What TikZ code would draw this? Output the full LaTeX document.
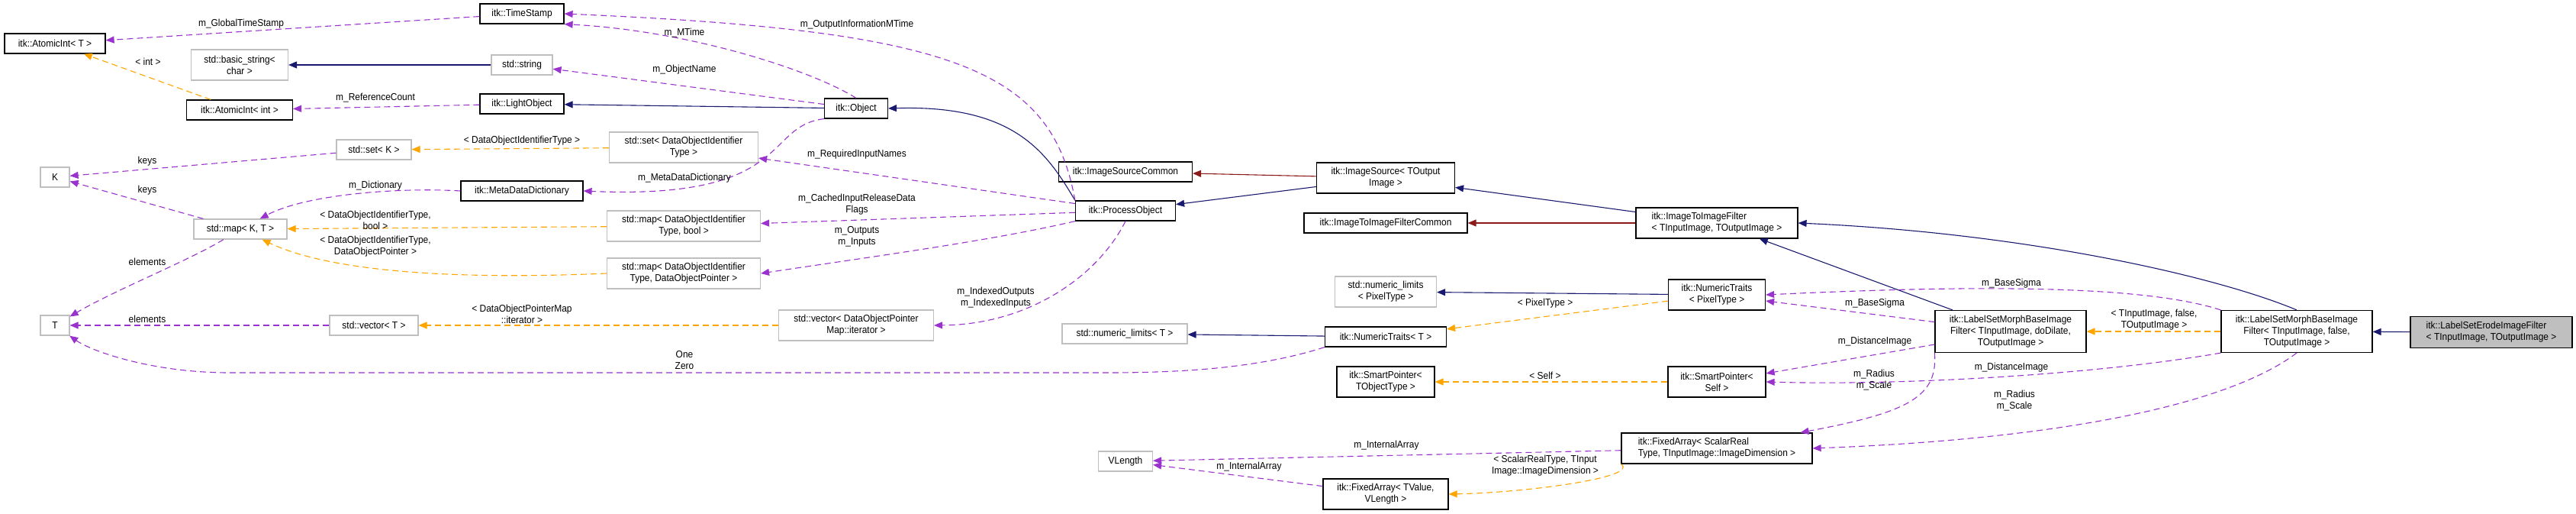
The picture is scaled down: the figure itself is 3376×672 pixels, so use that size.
\documentclass[tikz,border=0pt]{standalone}
\usepackage{fontspec}
\setmainfont{Liberation Sans}[FakeStretch=0.92]
\usetikzlibrary{arrows.meta}
\definecolor{usecol}{HTML}{9A32CD}
\definecolor{tplcol}{HTML}{FFA500}
\definecolor{inhcol}{HTML}{191970}
\definecolor{privcol}{HTML}{8B1A1A}
\definecolor{graybd}{HTML}{BFBFBF}
\tikzset{
  x=1pt, y=-1pt,
  every node/.style={font=\fontsize{13}{15}\selectfont, inner sep=1pt},
  cls/.style={draw=black, line width=1.2pt, fill=white, align=center},
  ext/.style={draw=graybd, line width=1.2pt, fill=white, align=center},
  lbl/.style={align=center},
  tip/.style={-{Triangle[length=11pt,width=9pt]}},
  usee/.style={tip, draw=usecol, line width=1.1pt, dash pattern=on 8pt off 5pt},
  tpl/.style={tip, draw=tplcol, line width=1.1pt, dash pattern=on 8pt off 5pt},
  inh/.style={tip, draw=inhcol, line width=1.1pt},
  priv/.style={tip, draw=privcol, line width=1.1pt},
}
\begin{document}
\begin{tikzpicture}
\useasboundingbox (0,0) rectangle (3376,672);
% nodes
\node[cls, minimum width=132, minimum height=26] (at) at (72,57) {itk::AtomicInt\textless{} T \textgreater};
\node[cls, minimum width=110, minimum height=26] (ts) at (684,18) {itk::TimeStamp};
\node[ext, minimum width=127, minimum height=40] (bs) at (314,85) {std::basic\_string\textless\\char \textgreater};
\node[ext, minimum width=80, minimum height=26] (ss) at (684,85) {std::string};
\node[cls, minimum width=139, minimum height=26] (ai) at (314,144) {itk::AtomicInt\textless{} int \textgreater};
\node[cls, minimum width=110, minimum height=26] (lo) at (684,136) {itk::LightObject};
\node[ext, minimum width=98, minimum height=26] (sk) at (490,196) {std::set\textless{} K \textgreater};
\node[ext, minimum width=38, minimum height=26] (k) at (72,232) {K};
\node[cls, minimum width=160, minimum height=26] (mdd) at (684,250) {itk::MetaDataDictionary};
\node[ext, minimum width=122, minimum height=26] (mkt) at (315,300) {std::map\textless{} K, T \textgreater};
\node[ext, minimum width=38, minimum height=26] (t) at (72,426) {T};
\node[ext, minimum width=116, minimum height=26] (vt) at (490,426) {std::vector\textless{} T \textgreater};
\node[cls, minimum width=83, minimum height=26] (obj) at (1122,142) {itk::Object};
\node[ext, minimum width=195, minimum height=40] (sd) at (896,193) {std::set\textless{} DataObjectIdentifier\\Type \textgreater};
\node[ext, minimum width=201, minimum height=40] (mdb) at (896,296) {std::map\textless{} DataObjectIdentifier\\Type, bool \textgreater};
\node[ext, minimum width=201, minimum height=40] (mdp) at (896,358) {std::map\textless{} DataObjectIdentifier\\Type, DataObjectPointer \textgreater};
\node[ext, minimum width=203, minimum height=40] (vd) at (1122,426) {std::vector\textless{} DataObjectPointer\\Map::iterator \textgreater};
\node[cls, minimum width=175, minimum height=26] (isc) at (1475,225) {itk::ImageSourceCommon};
\node[cls, minimum width=131, minimum height=26] (po) at (1475,276) {itk::ProcessObject};
\node[ext, minimum width=164, minimum height=26] (nlt) at (1474,437) {std::numeric\_limits\textless{} T \textgreater};
\node[ext, minimum width=71, minimum height=26] (vl) at (1475,604) {VLength};
\node[cls, minimum width=181, minimum height=40] (is) at (1816,233) {itk::ImageSource\textless{} TOutput\\Image \textgreater};
\node[cls, minimum width=214, minimum height=26] (iifc) at (1816,292) {itk::ImageToImageFilterCommon};
\node[cls, minimum width=212, minimum height=40, align=left] (iif) at (2250,292) {itk::ImageToImageFilter\\\textless{} TInputImage, TOutputImage \textgreater};
\node[ext, minimum width=133, minimum height=40] (nlp) at (1816,382) {std::numeric\_limits\\\textless{} PixelType \textgreater};
\node[cls, minimum width=127, minimum height=40] (ntp) at (2250,386) {itk::NumericTraits\\\textless{} PixelType \textgreater};
\node[cls, minimum width=159, minimum height=26] (ntt) at (1816,441) {itk::NumericTraits\textless{} T \textgreater};
\node[cls, minimum width=128, minimum height=40] (spt) at (1816,500) {itk::SmartPointer\textless\\TObjectType \textgreater};
\node[cls, minimum width=128, minimum height=40] (sps) at (2250,500) {itk::SmartPointer\textless\\Self \textgreater};
\node[cls, minimum width=250, minimum height=40, align=left] (fa) at (2250,587) {itk::FixedArray\textless{} ScalarReal\\Type, TInputImage::ImageDimension \textgreater};
\node[cls, minimum width=164, minimum height=40] (fat) at (1816,647) {itk::FixedArray\textless{} TValue,\\VLength \textgreater};
\node[cls, minimum width=198, minimum height=55] (lsmd) at (2635,434) {itk::LabelSetMorphBaseImage\\Filter\textless{} TInputImage, doDilate,\\TOutputImage \textgreater};
\node[cls, minimum width=198, minimum height=55] (lsmf) at (3010,434) {itk::LabelSetMorphBaseImage\\Filter\textless{} TInputImage, false,\\TOutputImage \textgreater};
\node[cls, fill=graybd, minimum width=212, minimum height=41, align=left] (er) at (3265,435) {itk::LabelSetErodeImageFilter\\\textless{} TInputImage, TOutputImage \textgreater};

% inheritance
\draw[inh] (ss) -- (bs);
\draw[inh] (obj) -- (lo);
\draw[inh] (po.north west) .. controls (1372,200) and (1330,137) .. (obj.east);
\draw[inh] (is) -- (po);
\draw[inh] (iif) -- (is);
\draw[inh] (lsmd) -- (iif);
\draw[inh] (lsmf.north) .. controls (2900,360) and (2650,305) .. (iif.east);
\draw[inh] (er) -- (lsmf);
\draw[inh] (ntp) -- (nlp);
\draw[inh] (ntt) -- (nlt);
\draw[priv] (is) -- (isc);
\draw[priv] (iif) -- (iifc);

% usage
\draw[usee] (ts) -- (at);
\draw[usee] (obj.north) .. controls (1060,90) and (900,40) .. (ts.south east);
\draw[usee] (po.north west) .. controls (1378,90) and (1250,40) .. (ts.east);
\draw[usee] (obj) -- (ss);
\draw[usee] (lo) -- (ai);
\draw[usee] (sk) -- (k);
\draw[usee] (mkt) -- (k);
\draw[usee] (mdd.west) .. controls (520,245) and (400,255) .. (mkt);
\draw[usee] (obj.south west) .. controls (1000,165) and (1040,262) .. (mdd.east);
\draw[usee] (mkt) .. controls (250,340) and (150,380) .. (t);
\draw[usee] (vt) -- (t);
\draw[usee] (ntt.south west) .. controls (1650,482) and (1550,488) .. (1450,488) -- (300,488) .. controls (200,488) and (120,460) .. (t);
\draw[usee] (po) -- (sd);
\draw[usee] (po) -- (mdb);
\draw[usee] (po.south west) .. controls (1300,315) and (1150,335) .. (mdp.east);
\draw[usee] (po.south) .. controls (1440,360) and (1350,425) .. (vd.east);
\draw[usee] (lsmf.north west) .. controls (2800,370) and (2550,375) .. (ntp.east);
\draw[usee] (lsmd) -- (ntp);
\draw[usee] (lsmd) -- (sps);
\draw[usee] (lsmf.south west) .. controls (2750,490) and (2500,505) .. (sps.east);
\draw[usee] (lsmd.south west) .. controls (2540,520) and (2500,540) .. (fa);
\draw[usee] (lsmf.south) .. controls (2920,530) and (2700,575) .. (fa.east);
\draw[usee] (fa) -- (vl);
\draw[usee] (fat) -- (vl);

% templates
\draw[tpl] (ai) -- (at);
\draw[tpl] (sd) -- (sk);
\draw[tpl] (mdb) -- (mkt);
\draw[tpl] (mdp.west) .. controls (560,368) and (420,350) .. (mkt);
\draw[tpl] (vd) -- (vt);
\draw[tpl] (ntp) -- (ntt);
\draw[tpl] (sps) -- (spt);
\draw[tpl] (fa.south west) .. controls (2150,625) and (2000,645) .. (fat.east);
\draw[tpl] (lsmf) -- (lsmd);

% labels
\node[lbl] (l1) at (316,31) {m\_GlobalTimeStamp};
\node[lbl] (l2) at (897,43) {m\_MTime};
\node[lbl] (l3) at (1123,32) {m\_OutputInformationMTime};
\node[lbl] (l4) at (897,91) {m\_ObjectName};
\node[lbl] (l5) at (492,128) {m\_ReferenceCount};
\node[lbl] (l6) at (193,211) {keys};
\node[lbl] (l7) at (193,249) {keys};
\node[lbl] (l8) at (492,243) {m\_Dictionary};
\node[lbl] (l9) at (897,233) {m\_MetaDataDictionary};
\node[lbl] (l10) at (193,343) {elements};
\node[lbl] (l11) at (193,418) {elements};
\node[lbl] (l12) at (897,472) {One\\Zero};
\node[lbl] (l13) at (1123,202) {m\_RequiredInputNames};
\node[lbl] (l14) at (1123,268) {m\_CachedInputReleaseData\\Flags};
\node[lbl] (l15) at (1123,310) {m\_Outputs\\m\_Inputs};
\node[lbl] (l16) at (1305,390) {m\_IndexedOutputs\\m\_IndexedInputs};
\node[lbl] (l17) at (2636,371) {m\_BaseSigma};
\node[lbl] (l18) at (2457,397) {m\_BaseSigma};
\node[lbl] (l19) at (2457,447) {m\_DistanceImage};
\node[lbl] (l20) at (2636,481) {m\_DistanceImage};
\node[lbl] (l21) at (2456,498) {m\_Radius\\m\_Scale};
\node[lbl] (l22) at (2640,525) {m\_Radius\\m\_Scale};
\node[lbl] (l23) at (1817,583) {m\_InternalArray};
\node[lbl] (l24) at (1637,611) {m\_InternalArray};
\node[lbl] (l25) at (194,81) {\textless{} int \textgreater};
\node[lbl] (l26) at (684,184) {\textless{} DataObjectIdentifierType \textgreater};
\node[lbl] (l27) at (492,288) {\textless{} DataObjectIdentifierType,\\bool \textgreater};
\node[lbl] (l28) at (492,323) {\textless{} DataObjectIdentifierType,\\DataObjectPointer \textgreater};
\node[lbl] (l29) at (684,411) {\textless{} DataObjectPointerMap\\::iterator \textgreater};
\node[lbl] (l30) at (2025,397) {\textless{} PixelType \textgreater};
\node[lbl] (l31) at (2025,492) {\textless{} Self \textgreater};
\node[lbl] (l32) at (2025,610) {\textless{} ScalarRealType, TInput\\Image::ImageDimension \textgreater};
\node[lbl] (l33) at (2823,419) {\textless{} TInputImage, false,\\TOutputImage \textgreater};
\end{tikzpicture}
\end{document}
